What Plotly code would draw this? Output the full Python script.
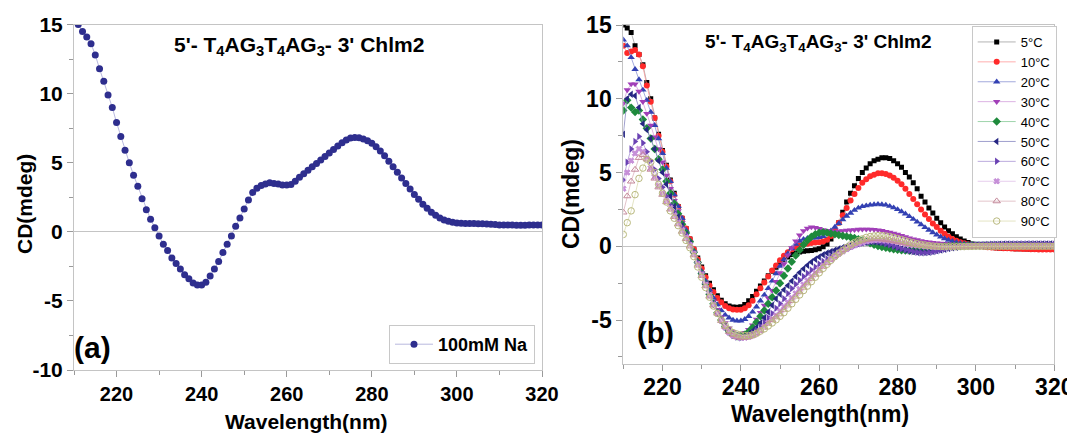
import plotly.graph_objects as go

# The page body adds an 8px offset; the figure is sized to fill the rest exactly.
PAGE_W, PAGE_H, OFF = 1075, 434, 8
W, H = PAGE_W - OFF, PAGE_H - OFF

# ---------------- data ----------------
wavelength = list(range(210, 321))

na_100mM = [
    15.4, 15.0, 14.5, 14.1, 13.6, 12.8, 11.8, 10.9, 9.9, 9.0,
    7.9, 6.9, 5.9, 5.0, 4.1, 3.3, 2.4, 1.6, 0.9, 0.3,
    -0.3, -0.9, -1.35, -1.9, -2.3, -2.7, -3.1, -3.4, -3.7, -3.85,
    -3.85, -3.65, -3.2, -2.7, -2.15, -1.5, -0.9, -0.3, 0.4, 1.0,
    1.65, 2.3, 2.85, 3.15, 3.35, 3.45, 3.55, 3.5, 3.45, 3.38,
    3.38, 3.42, 3.65, 3.95, 4.2, 4.45, 4.7, 4.95, 5.2, 5.45,
    5.7, 5.95, 6.2, 6.45, 6.65, 6.78, 6.82, 6.8, 6.72, 6.58,
    6.4, 6.15, 5.85, 5.5, 5.1, 4.7, 4.3, 3.9, 3.5, 3.1,
    2.7, 2.35, 2.0, 1.7, 1.42, 1.2, 1.0, 0.86, 0.76, 0.69,
    0.64, 0.62, 0.6, 0.6, 0.6, 0.59, 0.58, 0.57, 0.55, 0.52,
    0.5, 0.5, 0.49, 0.49, 0.48, 0.48, 0.48, 0.49, 0.5, 0.5, 0.5,
]

cd_5C = [
    15.0, 14.8, 14.5, 13.6, 13.0, 12.3, 11.1, 10.0, 8.7, 7.6,
    6.5, 5.5, 4.5, 3.6, 2.7, 1.9, 1.2, 0.5, -0.2, -0.8,
    -1.4, -2.0, -2.5, -2.95, -3.35, -3.65, -3.9, -4.05, -4.12, -4.13,
    -4.1, -3.95, -3.7, -3.4, -3.05, -2.7, -2.35, -2.0, -1.7, -1.42,
    -1.15, -0.92, -0.72, -0.56, -0.45, -0.38, -0.33, -0.3, -0.28, -0.24,
    -0.16, -0.04, 0.15, 0.5, 1.0, 1.6, 2.3, 3.0, 3.6, 4.1,
    4.6, 5.0, 5.3, 5.6, 5.8, 5.9, 6.0, 6.0, 5.95, 5.8,
    5.6, 5.35, 5.0, 4.7, 4.3, 3.9, 3.4, 3.0, 2.6, 2.25,
    1.9, 1.6, 1.3, 1.05, 0.85, 0.65, 0.5, 0.35, 0.25, 0.15,
    0.08, 0.02, -0.02, -0.05, -0.08, -0.1, -0.12, -0.13, -0.14, -0.15,
    -0.16, -0.17, -0.17, -0.18, -0.18, -0.19, -0.19, -0.2, -0.2, -0.2, -0.2,
]

cd_10C = [
    13.6, 13.1, 13.2, 13.3, 13.0, 12.2, 10.9, 9.8, 8.7, 7.5,
    6.4, 5.4, 4.4, 3.5, 2.7, 1.9, 1.2, 0.5, -0.2, -0.9,
    -1.5, -2.1, -2.65, -3.1, -3.5, -3.8, -4.05, -4.2, -4.28, -4.3,
    -4.3, -4.2, -4.0, -3.7, -3.25, -2.85, -2.45, -2.05, -1.65, -1.3,
    -0.95, -0.65, -0.4, -0.2, -0.05, 0.05, 0.12, 0.18, 0.22, 0.25,
    0.28, 0.33, 0.45, 0.7, 1.1, 1.6, 2.1, 2.6, 3.1, 3.55,
    3.95, 4.3, 4.55, 4.75, 4.85, 4.95, 4.95, 4.9, 4.8, 4.65,
    4.45, 4.2, 3.9, 3.55, 3.2, 2.85, 2.5, 2.15, 1.85, 1.55,
    1.3, 1.05, 0.85, 0.65, 0.5, 0.38, 0.28, 0.2, 0.13, 0.08,
    0.04, 0.0, -0.03, -0.06, -0.08, -0.1, -0.12, -0.13, -0.14, -0.15,
    -0.16, -0.17, -0.18, -0.19, -0.2, -0.2, -0.21, -0.21, -0.22, -0.22, -0.22,
]

cd_20C = [
    14.0, 13.6, 12.8, 12.0, 11.3, 10.6, 9.9, 9.1, 8.2, 7.3,
    6.3, 5.3, 4.4, 3.5, 2.7, 1.9, 1.1, 0.4, -0.3, -1.0,
    -1.7, -2.35, -2.95, -3.5, -3.95, -4.35, -4.65, -4.85, -5.0, -5.05,
    -5.05, -4.95, -4.75, -4.45, -4.1, -3.7, -3.3, -2.85, -2.35, -1.85,
    -1.35, -0.9, -0.5, -0.15, 0.15, 0.35, 0.48, 0.55, 0.57, 0.57,
    0.6, 0.68, 0.85, 1.05, 1.3, 1.55, 1.8, 2.05, 2.25, 2.45,
    2.6, 2.7, 2.75, 2.8, 2.83, 2.85, 2.83, 2.8, 2.72, 2.62,
    2.5, 2.35, 2.2, 2.02, 1.84, 1.65, 1.47, 1.28, 1.1, 0.93,
    0.78, 0.64, 0.52, 0.42, 0.34, 0.27, 0.21, 0.17, 0.14, 0.12,
    0.1, 0.09, 0.08, 0.08, 0.07, 0.07, 0.07, 0.06, 0.06, 0.06,
    0.06, 0.06, 0.05, 0.05, 0.05, 0.05, 0.05, 0.05, 0.05, 0.05, 0.05,
]

cd_30C = [
    9.7, 10.6, 11.0, 11.0, 10.5, 9.8, 9.0, 8.2, 7.4, 6.6,
    5.7, 4.8, 3.9, 3.1, 2.4, 1.6, 0.9, 0.3, -0.4, -1.1,
    -1.8, -2.5, -3.15, -3.75, -4.3, -4.8, -5.2, -5.55, -5.8, -5.95,
    -5.95, -5.85, -5.65, -5.35, -4.95, -4.5, -4.0, -3.5, -3.0, -2.4,
    -1.8, -1.2, -0.6, -0.1, 0.35, 0.75, 1.05, 1.22, 1.3, 1.27,
    1.2, 1.12, 1.06, 1.02, 1.0, 1.02, 1.05, 1.08, 1.1, 1.12,
    1.14, 1.15, 1.15, 1.15, 1.13, 1.1, 1.06, 1.0, 0.94, 0.87,
    0.8, 0.72, 0.64, 0.56, 0.49, 0.43, 0.37, 0.32, 0.28, 0.25,
    0.22, 0.2, 0.18, 0.17, 0.16, 0.15, 0.15, 0.15, 0.15, 0.15,
    0.15, 0.15, 0.15, 0.15, 0.15, 0.15, 0.15, 0.15, 0.15, 0.15,
    0.15, 0.15, 0.15, 0.15, 0.15, 0.15, 0.15, 0.15, 0.15, 0.15, 0.15,
]

cd_40C = [
    9.2, 9.9, 9.4, 9.1, 9.2, 8.6, 8.0, 7.3, 6.6, 5.9,
    5.2, 4.4, 3.6, 2.9, 2.2, 1.5, 0.9, 0.3, -0.4, -1.1,
    -1.85, -2.55, -3.25, -3.9, -4.5, -5.0, -5.45, -5.8, -6.0, -6.1,
    -6.1, -6.0, -5.8, -5.5, -5.15, -4.75, -4.35, -3.9, -3.45, -3.0,
    -2.5, -2.0, -1.5, -1.05, -0.62, -0.25, 0.1, 0.4, 0.65, 0.82,
    0.92, 0.95, 0.92, 0.87, 0.82, 0.77, 0.72, 0.67, 0.62, 0.56,
    0.48, 0.4, 0.3, 0.2, 0.1, 0.02, -0.05, -0.1, -0.15, -0.2,
    -0.24, -0.27, -0.29, -0.3, -0.3, -0.28, -0.25, -0.21, -0.17, -0.13,
    -0.09, -0.05, -0.02, 0.0, 0.02, 0.03, 0.04, 0.05, 0.05, 0.05,
    0.05, 0.05, 0.05, 0.05, 0.05, 0.05, 0.05, 0.05, 0.05, 0.05,
    0.05, 0.05, 0.05, 0.05, 0.05, 0.05, 0.05, 0.05, 0.05, 0.05, 0.05,
]

cd_50C = [
    7.6, 10.0, 10.3, 10.2, 9.4, 8.3, 7.9, 7.3, 6.6, 5.8,
    5.0, 4.2, 3.4, 2.7, 2.0, 1.4, 0.8, 0.2, -0.5, -1.2,
    -1.9, -2.6, -3.3, -3.95, -4.55, -5.1, -5.55, -5.85, -6.05, -6.15,
    -6.15, -6.1, -5.95, -5.75, -5.5, -5.2, -4.85, -4.45, -4.0, -3.55,
    -3.25, -2.95, -2.65, -2.35, -2.05, -1.78, -1.52, -1.28, -1.07, -0.88,
    -0.72, -0.58, -0.46, -0.35, -0.25, -0.16, -0.08, 0.0, 0.07, 0.13,
    0.18, 0.24, 0.28, 0.3, 0.3, 0.28, 0.24, 0.18, 0.1, 0.02,
    -0.07, -0.15, -0.23, -0.3, -0.36, -0.4, -0.42, -0.42, -0.4, -0.36,
    -0.31, -0.26, -0.2, -0.15, -0.1, -0.06, -0.02, 0.01, 0.04, 0.06,
    0.08, 0.09, 0.1, 0.11, 0.12, 0.12, 0.13, 0.13, 0.13, 0.14,
    0.14, 0.14, 0.14, 0.15, 0.15, 0.15, 0.15, 0.15, 0.15, 0.15, 0.15,
]

cd_60C = [
    4.5, 5.7, 6.6, 7.1, 7.45, 7.0, 6.4, 5.8, 5.2, 4.6,
    4.0, 3.4, 2.8, 2.3, 1.8, 1.3, 0.8, 0.2, -0.4, -1.1,
    -1.85, -2.55, -3.25, -3.9, -4.5, -5.0, -5.45, -5.8, -6.05, -6.15,
    -6.2, -6.15, -6.05, -5.9, -5.7, -5.45, -5.15, -4.85, -4.55, -4.2,
    -3.9, -3.55, -3.2, -2.87, -2.57, -2.3, -2.05, -1.82, -1.6, -1.4,
    -1.2, -1.02, -0.85, -0.7, -0.55, -0.42, -0.29, -0.17, -0.06, 0.04,
    0.13, 0.21, 0.27, 0.31, 0.32, 0.3, 0.25, 0.18, 0.1, 0.01,
    -0.08, -0.16, -0.24, -0.31, -0.37, -0.41, -0.43, -0.43, -0.41, -0.37,
    -0.32, -0.26, -0.2, -0.14, -0.09, -0.05, -0.01, 0.02, 0.05, 0.07,
    0.09, 0.1, 0.11, 0.12, 0.13, 0.13, 0.14, 0.14, 0.15, 0.15,
    0.15, 0.15, 0.16, 0.16, 0.16, 0.16, 0.16, 0.16, 0.16, 0.16, 0.16,
]

cd_70C = [
    3.9, 5.0, 5.8, 6.3, 6.6, 6.4, 5.9, 5.3, 4.7, 4.1,
    3.6, 3.1, 2.6, 2.1, 1.6, 1.1, 0.6, 0.1, -0.5, -1.2,
    -1.9, -2.6, -3.3, -3.95, -4.55, -5.05, -5.5, -5.85, -6.05, -6.15,
    -6.2, -6.2, -6.15, -6.05, -5.9, -5.7, -5.45, -5.2, -4.95, -4.7,
    -4.4, -4.1, -3.8, -3.5, -3.2, -2.9, -2.6, -2.32, -2.05, -1.8,
    -1.55, -1.32, -1.1, -0.9, -0.7, -0.52, -0.35, -0.2, -0.06, 0.06,
    0.17, 0.26, 0.33, 0.38, 0.41, 0.42, 0.42, 0.4, 0.37, 0.33,
    0.28, 0.23, 0.18, 0.13, 0.09, 0.05, 0.02, -0.01, -0.03, -0.05,
    -0.06, -0.06, -0.06, -0.06, -0.05, -0.04, -0.03, -0.02, -0.01, 0.0,
    0.0, 0.0, 0.0, 0.0, 0.0, 0.0, 0.0, 0.0, 0.0, 0.0,
    0.0, 0.0, 0.0, 0.0, 0.0, 0.0, 0.0, 0.0, 0.0, 0.0, 0.0,
]

cd_80C = [
    2.3, 3.4, 4.4, 5.2, 6.0, 6.2, 5.9, 5.2, 4.6, 4.0,
    3.5, 3.0, 2.5, 2.0, 1.5, 1.0, 0.5, 0.0, -0.6, -1.3,
    -2.0, -2.7, -3.4, -4.0, -4.55, -5.05, -5.45, -5.8, -6.0, -6.15,
    -6.2, -6.2, -6.15, -6.05, -5.9, -5.7, -5.5, -5.25, -5.0, -4.8,
    -4.6, -4.3, -4.0, -3.7, -3.4, -3.1, -2.8, -2.5, -2.2, -1.92,
    -1.65, -1.38, -1.12, -0.88, -0.65, -0.44, -0.25, -0.08, 0.07, 0.19,
    0.3, 0.38, 0.44, 0.48, 0.5, 0.5, 0.48, 0.45, 0.41, 0.36,
    0.31, 0.26, 0.21, 0.16, 0.12, 0.08, 0.05, 0.02, 0.0, -0.02,
    -0.03, -0.04, -0.04, -0.04, -0.03, -0.02, -0.01, 0.0, 0.0, 0.0,
    0.0, 0.0, 0.0, 0.0, 0.0, 0.0, 0.0, 0.0, 0.0, 0.0,
    0.0, 0.0, 0.0, 0.0, 0.0, 0.0, 0.0, 0.0, 0.0, 0.0, 0.0,
]

cd_90C = [
    0.8, 1.6, 2.4, 3.5, 4.6, 5.3, 5.9, 5.7, 5.0, 4.2,
    3.6, 3.0, 2.4, 1.9, 1.4, 0.9, 0.4, -0.1, -0.7, -1.4,
    -2.1, -2.8, -3.45, -4.05, -4.55, -5.0, -5.35, -5.65, -5.85, -5.95,
    -6.0, -6.05, -6.05, -6.0, -5.9, -5.75, -5.6, -5.4, -5.2, -4.98,
    -4.75, -4.5, -4.2, -3.9, -3.6, -3.3, -3.0, -2.7, -2.4, -2.1,
    -1.8, -1.5, -1.22, -0.95, -0.7, -0.47, -0.27, -0.08, 0.1, 0.25,
    0.38, 0.5, 0.6, 0.66, 0.7, 0.72, 0.72, 0.7, 0.66, 0.6,
    0.53, 0.46, 0.38, 0.31, 0.24, 0.18, 0.13, 0.09, 0.05, 0.02,
    0.0, -0.02, -0.03, -0.03, -0.03, -0.03, -0.02, -0.02, -0.01, -0.01,
    0.0, 0.0, 0.0, 0.0, 0.0, 0.0, 0.0, 0.0, 0.0, 0.0,
    0.0, 0.0, 0.0, 0.0, 0.0, 0.0, 0.0, 0.0, 0.0, 0.0, 0.0,
]

temp_labels = ["5°C", "10°C", "20°C", "30°C", "40°C", "50°C", "60°C", "70°C", "80°C", "90°C"]
temp_series = [cd_5C, cd_10C, cd_20C, cd_30C, cd_40C, cd_50C, cd_60C, cd_70C, cd_80C, cd_90C]

x_tickvals = [220, 240, 260, 280, 300, 320]
x_ticktext = ["220", "240", "260", "280", "300", "320"]
ya_tickvals = [-10, -5, 0, 5, 10, 15]
ya_ticktext = ["-10", "-5", "0", "5", "10", "15"]
yb_tickvals = [-5, 0, 5, 10, 15]
yb_ticktext = ["-5", "0", "5", "10", "15"]

# ---------------- styles ----------------
FONT = "Liberation Sans, Arial, sans-serif"
AXC = "#c4c4c4"
TKC = "#9a9a9a"

marker_colors = ["#000000", "#ff2a2a", "#3341b3", "#a13fb8", "#1e8a3c",
                 "#262683", "#6a42b3", "#c68fd8", "#c4899a", "#b9b97e"]
line_colors = ["#a0a0a0", "#ff9a9a", "#8c94d4", "#d3a0dc", "#86c996",
               "#8686c2", "#aa94d4", "#e0c0e8", "#dcb4bc", "#dcdcb4"]
symbols = ["square", "circle", "triangle-up", "triangle-down", "diamond",
           "triangle-left", "triangle-right", "x", "triangle-up-open", "circle-open"]
sizes = [5, 6, 6.5, 6.5, 6.5, 6.5, 6.5, 5, 6.5, 6.5]


def px_x(p):
    # page pixel -> paper fraction
    return (p - OFF) / W


def px_y(p):
    return 1 - (p - OFF) / H


fig = go.Figure()

fig.add_trace(go.Scatter(
    x=wavelength, y=na_100mM, mode="lines+markers", name="100mM Na",
    xaxis="x", yaxis="y", legend="legend",
    marker=dict(symbol="circle", size=7, color="#2e2e8e"),
    line=dict(color="#a6a6d6", width=0.8),
))

for lab, ser, mc, lc, sym, sz in zip(temp_labels, temp_series, marker_colors, line_colors, symbols, sizes):
    mk = dict(symbol=sym, size=sz, color=mc)
    if sym.endswith("open") or sym == "x":
        mk["line"] = dict(color=mc, width=1)
    fig.add_trace(go.Scatter(
        x=wavelength, y=ser, mode="lines+markers", name=lab,
        xaxis="x2", yaxis="y2", legend="legend2",
        marker=mk, line=dict(color=lc, width=0.8),
    ))


def xaxis_style(domain, font_size, anchor, standoff):
    return dict(
        domain=domain, anchor=anchor, range=[210, 320], automargin=False,
        tickmode="array", tickvals=x_tickvals, ticktext=x_ticktext,
        ticks="outside", ticklen=6, tickcolor=TKC, tickwidth=1,
        ticklabelstandoff=standoff,
        minor=dict(tickmode="linear", tick0=210, dtick=10, ticks="outside",
                   ticklen=4, tickcolor=TKC, tickwidth=1),
        showline=True, linecolor=AXC, linewidth=1, mirror=True,
        showgrid=False, zeroline=False,
        tickfont=dict(family=FONT, size=font_size, color="#000", weight="bold"),
    )


def yaxis_style(domain, rng, tv, tt, font_size, anchor):
    return dict(
        domain=domain, anchor=anchor, range=rng, automargin=False,
        tickmode="array", tickvals=tv, ticktext=tt,
        ticks="outside", ticklen=6, tickcolor=TKC, tickwidth=1,
        minor=dict(tickmode="linear", tick0=0, dtick=2.5, ticks="outside",
                   ticklen=4, tickcolor=TKC, tickwidth=1),
        showline=True, linecolor=AXC, linewidth=1, mirror=True,
        showgrid=False, zeroline=True, zerolinecolor=AXC, zerolinewidth=1,
        tickfont=dict(family=FONT, size=font_size, color="#000", weight="bold"),
    )


# plot areas in page pixels
A_L, A_R, A_T, A_B = 74, 542, 24.5, 370
B_L, B_R, B_T, B_B = 623.3, 1054.3, 25, 364.3

fig.update_layout(
    template="none",
    width=W, height=H,
    margin=dict(l=0, r=0, t=0, b=0, pad=0, autoexpand=False),
    paper_bgcolor="white", plot_bgcolor="white",
    font=dict(family=FONT, color="#000"),
    xaxis=xaxis_style([px_x(A_L), px_x(A_R)], 20, "y", 0),
    yaxis=yaxis_style([px_y(A_B), px_y(A_T)], [-10, 15], ya_tickvals, ya_ticktext, 21, "x"),
    xaxis2=xaxis_style([px_x(B_L), px_x(B_R)], 23, "y2", -4),
    yaxis2=yaxis_style([px_y(B_B), px_y(B_T)], [-8, 15], yb_tickvals, yb_ticktext, 23, "x2"),
    legend=dict(
        x=px_x(389), y=px_y(325), xanchor="left", yanchor="top",
        bgcolor="white", bordercolor="#c8c8c8", borderwidth=1,
        font=dict(family=FONT, size=18, color="#000", weight="bold"),
        itemwidth=38, tracegroupgap=0,
    ),
    legend2=dict(
        x=px_x(971.7), y=px_y(26), xanchor="left", yanchor="top",
        bgcolor="white", bordercolor="#c8c8c8", borderwidth=1,
        font=dict(family=FONT, size=13, color="#000"),
        itemwidth=38, tracegroupgap=0,
    ),
    showlegend=True,
)

title_txt = "5'- T<sub>4</sub>AG<sub>3</sub>T<sub>4</sub>AG<sub>3</sub>- 3' Chlm2"

annos = [
    dict(text=title_txt, x=px_x(299), y=px_y(46), size=21, angle=0),
    dict(text=title_txt, x=px_x(818), y=px_y(43), size=19, angle=0),
    dict(text="(a)", x=px_x(92), y=px_y(347), size=30, angle=0),
    dict(text="(b)", x=px_x(655), y=px_y(333), size=29, angle=0),
    dict(text="Wavelength(nm)", x=px_x(306), y=px_y(421), size=21, angle=0),
    dict(text="CD(mdeg)", x=px_x(24), y=px_y(204), size=21, angle=-90),
    dict(text="Wavelength(nm)", x=px_x(820), y=px_y(414), size=23, angle=0),
    dict(text="CD(mdeg)", x=px_x(571), y=px_y(194), size=23, angle=-90),
]
for a in annos:
    fig.add_annotation(
        text=a["text"], x=a["x"], y=a["y"], xref="paper", yref="paper",
        xanchor="center", yanchor="middle", showarrow=False, textangle=a["angle"],
        font=dict(family=FONT, size=a["size"], color="#000", weight="bold"),
    )

fig.write_html("out.html")
